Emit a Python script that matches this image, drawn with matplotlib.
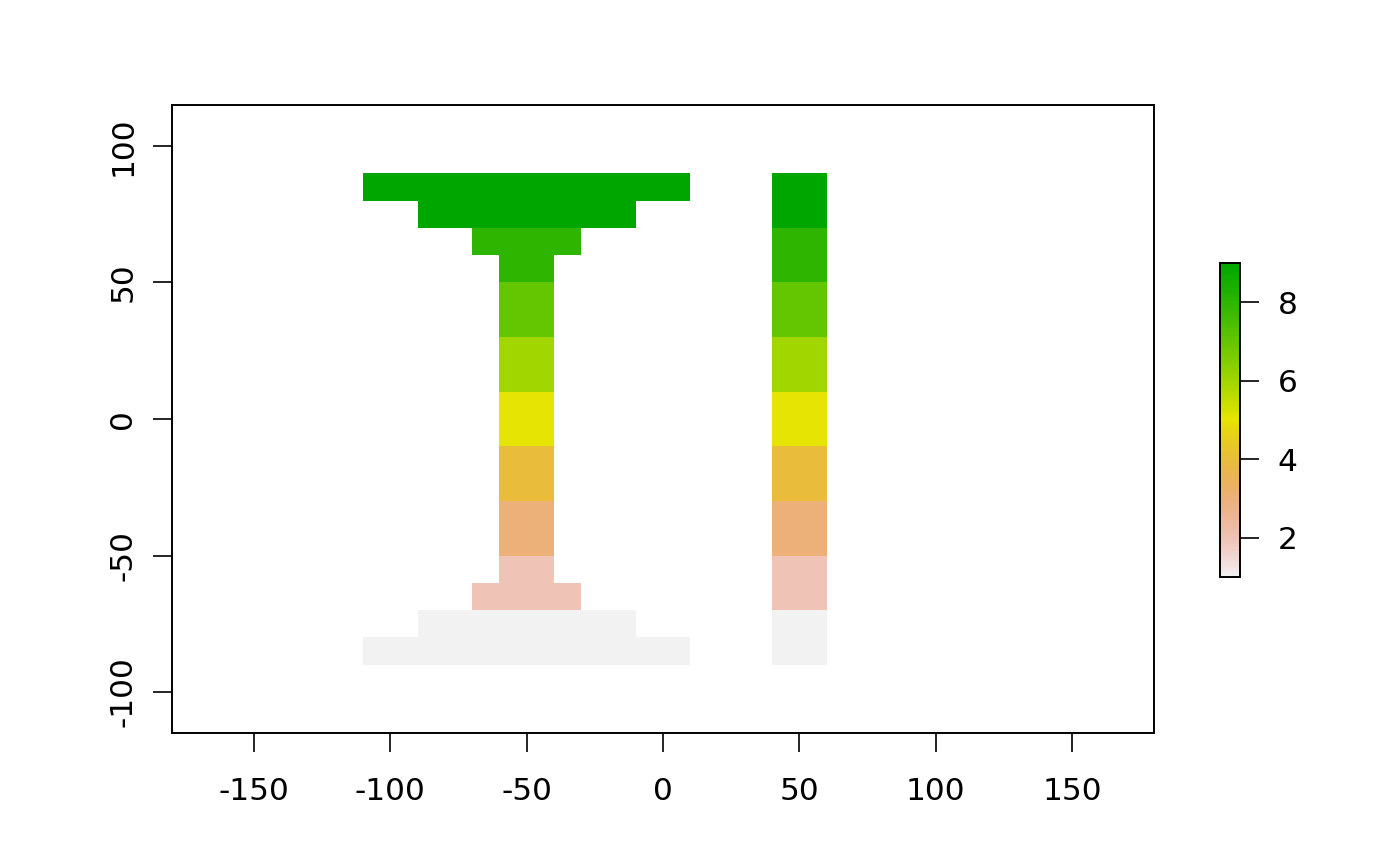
import colorsys

import numpy as np
import matplotlib
matplotlib.use("Agg")
import matplotlib.pyplot as plt
from matplotlib.colors import ListedColormap

plt.rcParams["axes.unicode_minus"] = False

# raster rows, top to bottom (cell centres, 10 degree cells)
row_y = [85, 75, 65, 55, 45, 35, 25, 15, 5, -5, -15, -25, -35, -45, -55, -65, -75, -85]
row_values = [9, 9, 8, 8, 7, 7, 6, 6, 5, 5, 4, 4, 3, 3, 2, 2, 1, 1]
# the "T"/"I" shaped block: left and right edges per row
shape_left = [-110, -90, -70, -60, -60, -60, -60, -60, -60, -60, -60, -60, -60, -60, -60, -70, -90, -110]
shape_right = [10, -10, -30, -40, -40, -40, -40, -40, -40, -40, -40, -40, -40, -40, -40, -30, -10, 10]
# the separate column on the right
column_left = 40
column_right = 60

res = 10
x_edges = np.arange(-180, 180 + res, res)
y_edges = np.arange(-90, 90 + res, res)
x_centres = (x_edges[:-1] + x_edges[1:]) / 2


def terrain_colors(n):
    # same construction as R's terrain.colors()
    k = n // 2
    h = [4 / 12, 2 / 12, 0 / 12]
    s = [1, 1, 0]
    v = [0.65, 0.9, 0.95]
    cols = []
    for i in range(k):
        f = i / (k - 1) if k > 1 else 0
        cols.append(colorsys.hsv_to_rgb(h[0] + (h[1] - h[0]) * f, s[0], v[0] + (v[1] - v[0]) * f))
    m = n - k + 1
    for i in range(1, m):
        f = i / (m - 1)
        cols.append(colorsys.hsv_to_rgb(h[1] + (h[2] - h[1]) * f, s[1] + (s[2] - s[1]) * f,
                                        v[1] + (v[2] - v[1]) * f))
    return cols


cmap = ListedColormap(terrain_colors(255)[::-1])

grid = np.full((len(y_edges) - 1, len(x_edges) - 1), np.nan)
for y, val, l, r in zip(row_y, row_values, shape_left, shape_right):
    j = int((y - y_edges[0]) // res)
    grid[j, (x_centres > l) & (x_centres < r)] = val
    grid[j, (x_centres > column_left) & (x_centres < column_right)] = val

fig = plt.figure(figsize=(14, 8.66), dpi=100)
ax = fig.add_axes([172 / 1400, 133 / 866, 982 / 1400, 628 / 866])
mesh = ax.pcolormesh(x_edges, y_edges, np.ma.masked_invalid(grid), cmap=cmap, vmin=1, vmax=9)

ax.set_xlim(-180, 180)
ax.set_ylim(-115, 115)
ax.set_xticks([-150, -100, -50, 0, 50, 100, 150])
ax.set_yticks([-100, -50, 0, 50, 100])
ax.tick_params(length=14, width=1.2, labelsize=22.5, pad=18)
ax.tick_params(axis="y", labelrotation=90, pad=11)
for lab in ax.get_yticklabels():
    lab.set_va("center")
for sp in ax.spines.values():
    sp.set_linewidth(1.4)

cax = fig.add_axes([1220 / 1400, 289 / 866, 20 / 1400, 314 / 866])
cb = fig.colorbar(mesh, cax=cax, ticks=[2, 4, 6, 8])
cb.outline.set_linewidth(1.4)
cax.tick_params(length=14, width=1.2, labelsize=22.5, pad=13)

fig.savefig("out.png", dpi=100)
